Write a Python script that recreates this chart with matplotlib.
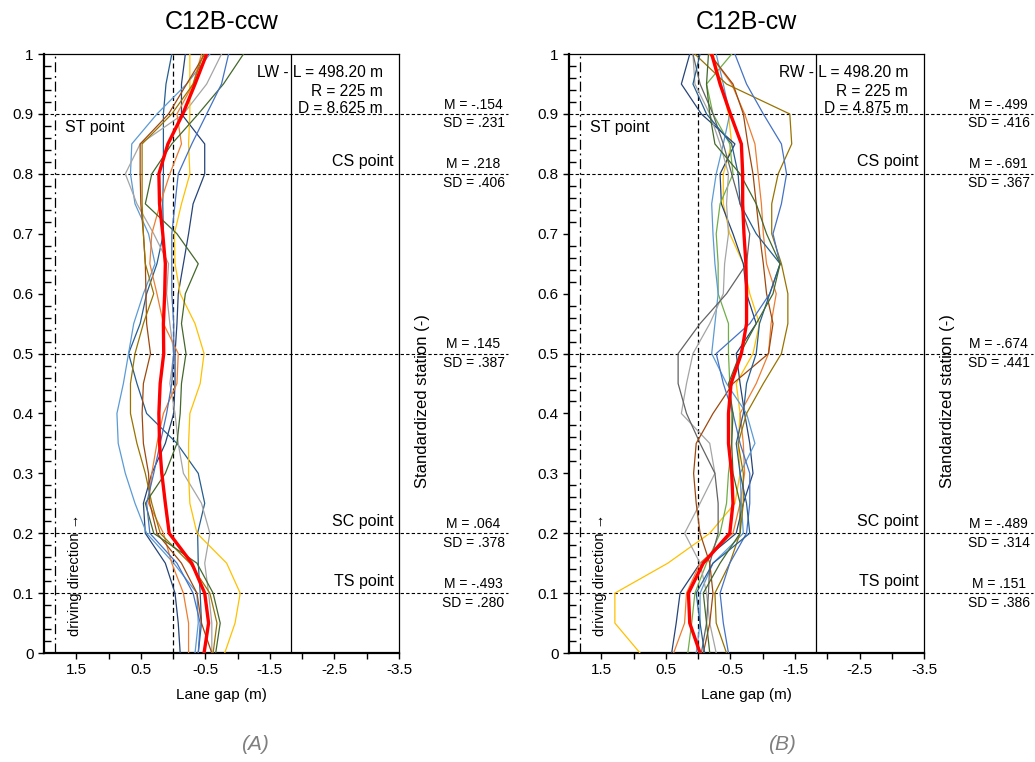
import matplotlib
matplotlib.use('Agg')
import matplotlib.pyplot as plt
from matplotlib.ticker import FixedLocator

plt.rcParams['font.family'] = ['Liberation Sans', 'DejaVu Sans']

# standardized station (y) where the lane gap was read
station = [0.0, 0.05, 0.1, 0.15, 0.2, 0.25, 0.3, 0.35, 0.4, 0.45, 0.5,
           0.55, 0.6, 0.65, 0.7, 0.75, 0.8, 0.85, 0.9, 0.95, 1.0]

# (A) C12B-ccw, lane gap in m
ccw_navy = [-0.11, -0.08, -0.03, 0.12, 0.43, 0.46, 0.33, 0.12, -0.01, -0.03, -0.03,
            -0.06, -0.08, -0.16, -0.24, -0.31, -0.49, -0.49, -0.13, -0.13, -0.19]
ccw_darkblue = [-0.39, -0.44, -0.42, -0.39, -0.38, -0.49, -0.39, -0.06, 0.41, 0.56, 0.69,
                0.51, 0.41, 0.25, 0.15, 0.16, 0.15, 0.15, 0.15, 0.11, 0.02]
ccw_lightblue = [-0.34, -0.39, -0.37, -0.01, 0.41, 0.59, 0.74, 0.85, 0.87, 0.77, 0.69,
                 0.61, 0.46, 0.28, 0.38, 0.59, 0.66, 0.64, 0.25, -0.21, -0.57]
ccw_gray = [-0.60, -0.60, -0.55, -0.49, -0.57, -0.44, -0.16, -0.08, -0.03, 0.05, -0.01,
            0.05, 0.10, 0.07, 0.30, 0.56, 0.74, 0.51, -0.16, -0.52, -0.75]
ccw_gold = [-0.80, -0.96, -1.04, -0.83, -0.37, -0.26, -0.24, -0.24, -0.26, -0.42, -0.48,
            -0.34, -0.11, -0.03, -0.02, -0.13, -0.26, -0.24, -0.26, -0.26, -0.26]
ccw_orange = [-0.24, -0.24, -0.16, 0.02, 0.15, 0.38, 0.33, 0.25, 0.15, -0.06, -0.08,
              0.15, 0.25, 0.36, 0.33, 0.20, 0.05, -0.13, -0.06, -0.31, -0.44]
ccw_brown = [-0.60, -0.44, -0.37, -0.13, 0.25, 0.36, 0.38, 0.46, 0.48, 0.46, 0.35,
             0.41, 0.42, 0.43, 0.46, 0.50, 0.51, 0.51, 0.07, -0.21, -0.49]
ccw_olive = [-0.62, -0.68, -0.57, -0.26, 0.20, 0.33, 0.43, 0.56, 0.66, 0.66, 0.59,
             0.46, 0.30, 0.43, 0.46, 0.48, 0.48, 0.48, 0.02, -0.31, -0.47]
ccw_green = [-0.66, -0.73, -0.62, -0.37, 0.30, 0.43, 0.12, -0.06, -0.11, -0.13, -0.20,
             -0.13, -0.19, -0.39, -0.06, 0.43, 0.33, 0.02, -0.39, -0.78, -1.09]
ccw_blue = [-0.39, -0.42, -0.31, -0.06, 0.36, 0.41, 0.30, 0.20, 0.10, 0.02, -0.01,
            -0.01, 0.02, 0.02, 0.02, -0.03, -0.08, -0.29, -0.52, -0.75, -0.86]
ccw_mean = [-0.48, -0.55, -0.49, -0.29, 0.06, 0.12, 0.175, 0.21, 0.22, 0.20, 0.145,
            0.15, 0.13, 0.12, 0.16, 0.21, 0.22, 0.08, -0.15, -0.34, -0.52]

# (B) C12B-cw, lane gap in m
cw_gold = [0.90, 1.29, 1.29, 0.47, -0.18, -0.57, -0.65, -0.62, -0.65, -0.59, -0.85,
           -0.95, -0.80, -0.70, -0.49, -0.39, -0.39, -0.52, -0.47, -0.36, -0.23]
cw_navy = [0.41, 0.34, 0.28, -0.03, -0.59, -0.70, -0.85, -0.80, -0.72, -0.65, -0.59,
           -0.90, -0.75, -0.70, -0.54, -0.36, -0.34, -0.57, -0.05, 0.26, 0.13]
cw_orange = [0.38, 0.21, 0.18, -0.03, -0.54, -0.65, -0.72, -0.70, -0.65, -0.90, -1.09,
             -1.13, -1.21, -1.06, -1.01, -0.98, -0.93, -0.88, -0.72, -0.52, -0.18]
cw_green = [0.16, 0.10, 0.05, -0.13, -0.34, -0.44, -0.47, -0.52, -0.52, -0.49, -0.47,
            -0.47, -0.31, -0.31, -0.28, -0.34, -0.54, -0.49, -0.23, -0.13, -0.52]
cw_lightblue = [0.03, -0.03, -0.03, -0.23, -0.70, -0.67, -0.65, -0.88, -0.75, -0.44, -0.21,
                -0.26, -0.31, -0.26, -0.23, -0.21, -0.28, -0.39, -0.49, -0.39, -0.28]
cw_gray = [-0.28, -0.18, -0.13, -0.03, 0.21, -0.03, -0.26, -0.18, 0.26, 0.18, 0.08,
           -0.18, -0.39, -0.41, -0.47, -0.44, -0.47, -0.34, -0.18, 0.05, 0.08]
cw_darkgray = [-0.05, -0.13, -0.16, -0.18, -0.31, -0.31, -0.26, -0.03, 0.18, 0.31, 0.31,
               -0.03, -0.44, -0.75, -0.80, -0.65, -0.52, -0.39, -0.23, -0.03, 0.08]
cw_brown = [-0.08, -0.18, -0.23, -0.18, -0.03, 0.03, 0.07, 0.03, -0.23, -0.54, -1.09,
            -1.16, -1.06, -1.01, -0.95, -0.90, -0.85, -0.77, -0.70, -0.54, -0.18]
cw_olive = [-0.44, -0.28, -0.26, -0.49, -0.65, -0.70, -0.70, -0.62, -0.75, -1.01, -1.29,
            -1.39, -1.39, -1.29, -1.14, -1.14, -1.24, -1.45, -1.42, -0.44, 0.05]
cw_blue = [-0.47, -0.39, -0.34, -0.49, -0.75, -0.80, -0.80, -0.65, -0.54, -0.39, -0.28,
           -0.80, -1.11, -1.27, -1.16, -1.29, -1.37, -1.29, -1.01, -0.75, -0.57]
cw_darkblue = [-0.10, -0.03, 0.03, -0.23, -0.80, -0.75, -0.65, -0.59, -0.70, -0.75, -0.90,
               -0.95, -1.11, -1.27, -0.90, -0.65, -0.62, -0.52, -0.13, 0.08, -0.03]
cw_darkgreen = [-0.18, -0.13, -0.08, -0.34, -0.65, -0.65, -0.54, -0.52, -0.54, -0.47, -0.65,
                -0.90, -1.16, -1.27, -1.06, -0.90, -0.65, -0.26, -0.18, -0.13, -0.16]
cw_mean = [-0.03, 0.13, 0.15, -0.08, -0.49, -0.54, -0.52, -0.47, -0.47, -0.51, -0.67,
           -0.75, -0.75, -0.74, -0.71, -0.69, -0.69, -0.67, -0.50, -0.34, -0.21]

# reference stations and their stats
marks = [0.9, 0.8, 0.5, 0.2, 0.1]
ccw_M = ['-.154', '.218', '.145', '.064', '-.493']
ccw_SD = ['.231', '.406', '.387', '.378', '.280']
cw_M = ['-.499', '-.691', '-.674', '-.489', '.151']
cw_SD = ['.416', '.367', '.441', '.314', '.386']

x_ticks = [1.5, 0.5, -0.5, -1.5, -2.5, -3.5]
x_labels = ['1.5', '0.5', '-0.5', '-1.5', '-2.5', '-3.5']
y_ticks = [0, 0.1, 0.2, 0.3, 0.4, 0.5, 0.6, 0.7, 0.8, 0.9, 1.0]
y_labels = ['0', '0.1', '0.2', '0.3', '0.4', '0.5', '0.6', '0.7', '0.8', '0.9', '1']

ccw_curves = [(ccw_navy, '#264478'), (ccw_darkblue, '#255E91'), (ccw_lightblue, '#5B9BD5'),
              (ccw_gray, '#A5A5A5'), (ccw_gold, '#FFC000'), (ccw_orange, '#ED7D31'),
              (ccw_brown, '#9E480E'), (ccw_olive, '#997300'), (ccw_green, '#43682B'),
              (ccw_blue, '#4472C4')]
cw_curves = [(cw_gold, '#FFC000'), (cw_navy, '#264478'), (cw_orange, '#ED7D31'),
             (cw_green, '#70AD47'), (cw_lightblue, '#5B9BD5'), (cw_gray, '#A5A5A5'),
             (cw_darkgray, '#636363'), (cw_brown, '#9E480E'), (cw_olive, '#997300'),
             (cw_blue, '#4472C4'), (cw_darkblue, '#255E91'), (cw_darkgreen, '#43682B')]


def draw_panel(ax, curves, mean, title, side, D, M, SD):
    for vals, col in curves:
        ax.plot(vals, station, color=col, lw=0.9, zorder=3)
    ax.plot(mean, station, color='#FF0000', lw=2.4, zorder=4)

    # lane edges and centre
    ax.axvline(1.825, color='black', lw=0.9, ls=(0, (8, 3, 1.5, 3)), zorder=2)
    ax.axvline(0, color='black', lw=0.9, ls=(0, (4, 2.5)), zorder=2)
    ax.axvline(-1.825, color='black', lw=0.9, zorder=2)

    for y, m, sd in zip(marks, M, SD):
        ax.axhline(y, xmin=-0.014, xmax=1.307, color='black', lw=0.8,
                   ls=(0, (3, 2)), clip_on=False, zorder=2)
        ax.text(1.21, y + 0.004, 'M = ' + m, transform=ax.get_yaxis_transform(),
                ha='center', va='bottom', fontsize=10)
        ax.text(1.21, y - 0.004, 'SD = ' + sd, transform=ax.get_yaxis_transform(),
                ha='center', va='top', fontsize=10)

    tr = ax.get_yaxis_transform()
    ax.text(0.06, 0.878, 'ST point', transform=tr, ha='left', va='center', fontsize=11.5)
    ax.text(0.985, 0.82, 'CS point', transform=tr, ha='right', va='center', fontsize=11.5)
    ax.text(0.985, 0.22, 'SC point', transform=tr, ha='right', va='center', fontsize=11.5)
    ax.text(0.985, 0.12, 'TS point', transform=tr, ha='right', va='center', fontsize=11.5)

    ax.text(0.955, 0.97, side + ' - L = 498.20 m', transform=tr, ha='right', va='center', fontsize=11.2)
    ax.text(0.955, 0.938, 'R = 225 m', transform=tr, ha='right', va='center', fontsize=11.2)
    ax.text(0.955, 0.909, 'D = ' + D, transform=tr, ha='right', va='center', fontsize=11.2)

    ax.text(0.087, 0.13, 'driving direction \u2192', transform=tr, rotation=90,
            ha='center', va='center', fontsize=10.5)
    ax.text(1.065, 0.42, 'Standardized station (-)', transform=tr, rotation=90,
            ha='center', va='center', fontsize=12)

    ax.text(0.5, 1.053, title, transform=ax.transAxes, ha='center', va='center', fontsize=18)
    ax.text(0.5, -0.07, 'Lane gap (m)', transform=ax.transAxes, ha='center', va='center', fontsize=11)

    ax.set_xlim(2.0, -3.5)
    ax.set_ylim(0, 1)
    ax.set_xticks(x_ticks)
    ax.set_xticklabels(x_labels)
    ax.xaxis.set_minor_locator(FixedLocator([1.0, 0.0, -1.0, -2.0, -3.0]))
    ax.set_yticks(y_ticks)
    ax.set_yticklabels(y_labels)
    ax.yaxis.set_minor_locator(FixedLocator([i / 50 for i in range(51) if i % 5]))
    ax.tick_params(axis='both', which='major', labelsize=11, direction='out', length=4, width=1)
    ax.tick_params(axis='x', which='minor', direction='out', length=4, width=1)
    ax.tick_params(axis='y', which='minor', direction='in', length=5, width=1)
    for s in ['left', 'bottom']:
        ax.spines[s].set_linewidth(1.6)
    for s in ['top', 'right']:
        ax.spines[s].set_linewidth(0.9)


fig = plt.figure(figsize=(10.35, 7.62), dpi=100)
ax1 = fig.add_axes([0.0425, 0.143, 0.343, 0.786])
ax2 = fig.add_axes([0.5498, 0.143, 0.343, 0.786])

draw_panel(ax1, ccw_curves, ccw_mean, 'C12B-ccw', 'LW', '8.625 m', ccw_M, ccw_SD)
draw_panel(ax2, cw_curves, cw_mean, 'C12B-cw', 'RW', '4.875 m', cw_M, cw_SD)

fig.text(255 / 1035, 1 - 745 / 762, '(A)', ha='center', va='center',
         fontsize=15, style='italic', color='#7F7F7F')
fig.text(782 / 1035, 1 - 745 / 762, '(B)', ha='center', va='center',
         fontsize=15, style='italic', color='#7F7F7F')

fig.savefig('out.png', dpi=100)
